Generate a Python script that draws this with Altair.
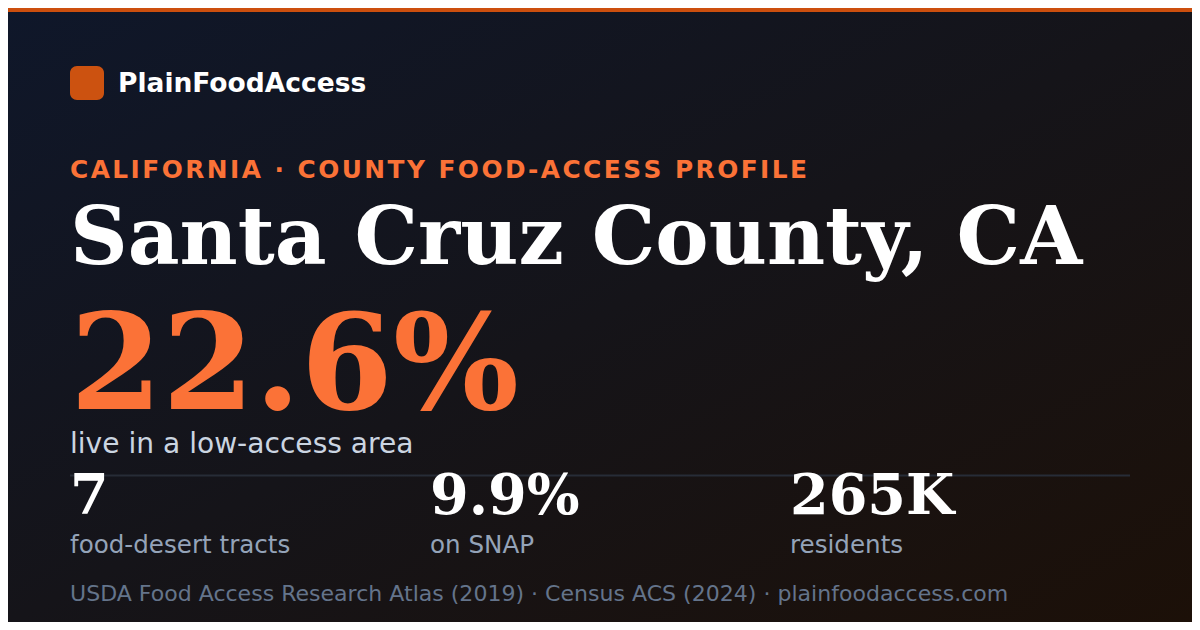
import altair as alt
import pandas as pd

# ---- content ----
brand = ["PlainFoodAccess"]
kicker = ["CALIFORNIA · COUNTY FOOD-ACCESS PROFILE"]
county = ["Santa Cruz County, CA"]
headline_value = ["22.6%"]
headline_label = ["live in a low-access area"]
stat_values = ["7", "9.9%", "265K"]
stat_labels = ["food-desert tracts", "on SNAP", "residents"]
source = ["USDA Food Access Research Atlas (2019) · Census ACS (2024) · plainfoodaccess.com"]

W, H = 1184, 614
SANS = "DejaVu Sans"
SERIF = "DejaVu Serif"
ACCENT = "#fb7237"

def spaced(s):
    return "\u200a".join(list(s))

one = pd.DataFrame({"a": [0]})

bg = alt.Chart(one).mark_rect(
    fill={"gradient": "linear", "x1": 0, "y1": 0, "x2": 1, "y2": 1,
          "stops": [{"offset": 0, "color": "#0f172a"},
                    {"offset": 0.5, "color": "#151419"},
                    {"offset": 1, "color": "#1c1008"}]},
    strokeWidth=0,
).encode(x=alt.value(0), x2=alt.value(W), y=alt.value(0), y2=alt.value(H))

topbar = alt.Chart(one).mark_rect(fill="#cc4f0e").encode(
    x=alt.value(0), x2=alt.value(W), y=alt.value(0), y2=alt.value(4))

logo = alt.Chart(one).mark_rect(fill="#cc5210", cornerRadius=7).encode(
    x=alt.value(62), x2=alt.value(96), y=alt.value(58), y2=alt.value(92))

def text_layer(values, x, y, size, color, font=SANS, weight="normal"):
    return alt.Chart(pd.DataFrame({"t": values})).mark_text(
        align="left", baseline="alphabetic", font=font, fontSize=size,
        fontWeight=weight, color=color,
    ).encode(x=alt.value(x), y=alt.value(y), text="t:N")

brand_t = text_layer(brand, 110, 84, 26.5, "#ffffff", weight="bold")
kicker_t = text_layer([spaced(k) for k in kicker], 62, 170, 24.8, ACCENT, weight="bold")
county_t = text_layer(county, 62, 256, 80, "#ffffff", font=SERIF, weight="bold")
big_t = text_layer(headline_value, 62, 401, 132.6, ACCENT, font=SERIF, weight="bold")
label_t = text_layer(headline_label, 62, 445, 28.1, "#cbd5e1")

divider = alt.Chart(one).mark_rule(color="#272c37", strokeWidth=2).encode(
    x=alt.value(62), x2=alt.value(1122), y=alt.value(467.5))

stats = pd.DataFrame({"i": [0, 1, 2], "v": stat_values, "l": stat_labels})
xpos = alt.X("i:Q", scale=alt.Scale(domain=[0, 2], range=[62, 782], nice=False, zero=False), axis=None)
stat_v = alt.Chart(stats).mark_text(
    align="left", baseline="alphabetic", font=SERIF, fontSize=55.6,
    fontWeight="bold", color="#ffffff",
).encode(x=xpos, y=alt.value(506), text="v:N")
stat_l = alt.Chart(stats).mark_text(
    align="left", baseline="alphabetic", font=SANS, fontSize=24.6, color="#94a3b8",
).encode(x=xpos, y=alt.value(545), text="l:N")

src_t = text_layer(source, 62, 593, 22.05, "#64748b")

chart = alt.layer(
    bg, topbar, logo, brand_t, kicker_t, county_t, big_t, label_t,
    divider, stat_v, stat_l, src_t,
).properties(
    width=W, height=H, padding=0, autosize=alt.AutoSizeParams(type="none"),
    background="#0f172a",
).configure_view(stroke=None)

chart.save("out.html", embed_options={"renderer": "svg", "actions": False})
